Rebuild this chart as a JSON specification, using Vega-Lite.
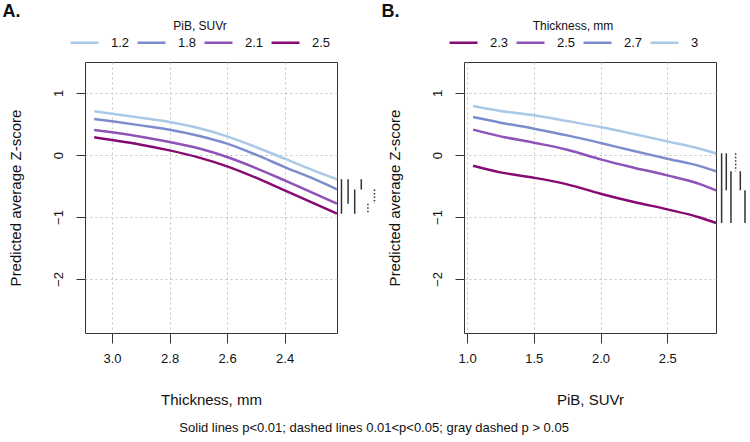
{
  "$schema": "https://vega.github.io/schema/vega-lite/v6.json",
  "padding": {"left": 2, "top": 2, "right": 5, "bottom": 5},
  "config": {
    "font": "Liberation Sans",
    "view": {"stroke": "#333", "strokeWidth": 1},
    "axis": {
      "grid": true, "gridDash": [2, 3], "gridColor": "#c4c4c4", "gridWidth": 1,
      "domain": false, "tickColor": "#333", "tickSize": 9, "tickWidth": 1,
      "labelFontSize": 13, "labelColor": "#111", "labelPadding": 6,
      "titleFontSize": 15, "titleFontWeight": "normal", "titleColor": "#111"
    },
    "legend": {
      "orient": "none", "direction": "horizontal", "titleOrient": "top", "titleAnchor": "middle",
      "titleFontSize": 12, "titleFontWeight": "normal", "titleColor": "#111", "titlePadding": -6,
      "labelFontSize": 13, "labelColor": "#111", "labelOffset": 11,
      "symbolType": "stroke", "symbolSize": 784, "symbolStrokeWidth": 2.5, "columnPadding": 2
    },
    "title": {"fontSize": 18, "fontWeight": "bold", "color": "#111"}
  },
  "title": {"text": "Solid lines p<0.01; dashed lines 0.01<p<0.05; gray dashed p > 0.05", "orient": "bottom", "anchor": "middle", "fontSize": 13, "fontWeight": "normal", "offset": 14},
  "datasets": {
    "a_lines": [
      {"thickness": 3.062, "pib": "1.2", "z": 0.704}, {"thickness": 3.0, "pib": "1.2", "z": 0.667}, {"thickness": 2.9, "pib": "1.2", "z": 0.602}, {"thickness": 2.8, "pib": "1.2", "z": 0.532}, {"thickness": 2.7, "pib": "1.2", "z": 0.435}, {"thickness": 2.6, "pib": "1.2", "z": 0.301}, {"thickness": 2.5, "pib": "1.2", "z": 0.129}, {"thickness": 2.4, "pib": "1.2", "z": -0.059}, {"thickness": 2.3, "pib": "1.2", "z": -0.247}, {"thickness": 2.218, "pib": "1.2", "z": -0.392},
      {"thickness": 3.062, "pib": "1.8", "z": 0.581}, {"thickness": 3.0, "pib": "1.8", "z": 0.543}, {"thickness": 2.9, "pib": "1.8", "z": 0.478}, {"thickness": 2.8, "pib": "1.8", "z": 0.409}, {"thickness": 2.7, "pib": "1.8", "z": 0.312}, {"thickness": 2.6, "pib": "1.8", "z": 0.183}, {"thickness": 2.5, "pib": "1.8", "z": 0.005}, {"thickness": 2.4, "pib": "1.8", "z": -0.194}, {"thickness": 2.3, "pib": "1.8", "z": -0.382}, {"thickness": 2.218, "pib": "1.8", "z": -0.554},
      {"thickness": 3.062, "pib": "2.1", "z": 0.403}, {"thickness": 3.0, "pib": "2.1", "z": 0.366}, {"thickness": 2.9, "pib": "2.1", "z": 0.296}, {"thickness": 2.8, "pib": "2.1", "z": 0.21}, {"thickness": 2.7, "pib": "2.1", "z": 0.108}, {"thickness": 2.6, "pib": "2.1", "z": -0.032}, {"thickness": 2.5, "pib": "2.1", "z": -0.21}, {"thickness": 2.4, "pib": "2.1", "z": -0.409}, {"thickness": 2.3, "pib": "2.1", "z": -0.613}, {"thickness": 2.218, "pib": "2.1", "z": -0.785},
      {"thickness": 3.062, "pib": "2.5", "z": 0.285}, {"thickness": 3.0, "pib": "2.5", "z": 0.242}, {"thickness": 2.9, "pib": "2.5", "z": 0.167}, {"thickness": 2.8, "pib": "2.5", "z": 0.075}, {"thickness": 2.7, "pib": "2.5", "z": -0.038}, {"thickness": 2.6, "pib": "2.5", "z": -0.183}, {"thickness": 2.5, "pib": "2.5", "z": -0.366}, {"thickness": 2.4, "pib": "2.5", "z": -0.57}, {"thickness": 2.3, "pib": "2.5", "z": -0.774}, {"thickness": 2.218, "pib": "2.5", "z": -0.946}
    ],
    "a_bars": [
      {"pair": 1, "from": -0.392, "to": -0.946, "sig": "p<0.01"},
      {"pair": 2, "from": -0.392, "to": -0.785, "sig": "p<0.01"},
      {"pair": 3, "from": -0.554, "to": -0.946, "sig": "p<0.01"},
      {"pair": 4, "from": -0.392, "to": -0.554, "sig": "p<0.01"},
      {"pair": 5, "from": -0.785, "to": -0.946, "sig": "0.01<p<0.05"},
      {"pair": 6, "from": -0.554, "to": -0.785, "sig": "0.01<p<0.05"}
    ],
    "b_lines": [
      {"pib": 1.045, "thickness": "2.3", "z": -0.172}, {"pib": 1.25, "thickness": "2.3", "z": -0.28}, {"pib": 1.5, "thickness": "2.3", "z": -0.366}, {"pib": 1.75, "thickness": "2.3", "z": -0.473}, {"pib": 2.0, "thickness": "2.3", "z": -0.624}, {"pib": 2.25, "thickness": "2.3", "z": -0.758}, {"pib": 2.5, "thickness": "2.3", "z": -0.876}, {"pib": 2.75, "thickness": "2.3", "z": -1.011}, {"pib": 2.865, "thickness": "2.3", "z": -1.097},
      {"pib": 1.045, "thickness": "2.5", "z": 0.409}, {"pib": 1.25, "thickness": "2.5", "z": 0.301}, {"pib": 1.5, "thickness": "2.5", "z": 0.199}, {"pib": 1.75, "thickness": "2.5", "z": 0.086}, {"pib": 2.0, "thickness": "2.5", "z": -0.07}, {"pib": 2.25, "thickness": "2.5", "z": -0.204}, {"pib": 2.5, "thickness": "2.5", "z": -0.328}, {"pib": 2.75, "thickness": "2.5", "z": -0.473}, {"pib": 2.865, "thickness": "2.5", "z": -0.57},
      {"pib": 1.045, "thickness": "2.7", "z": 0.613}, {"pib": 1.25, "thickness": "2.7", "z": 0.522}, {"pib": 1.5, "thickness": "2.7", "z": 0.425}, {"pib": 1.75, "thickness": "2.7", "z": 0.317}, {"pib": 2.0, "thickness": "2.7", "z": 0.194}, {"pib": 2.25, "thickness": "2.7", "z": 0.065}, {"pib": 2.5, "thickness": "2.7", "z": -0.059}, {"pib": 2.75, "thickness": "2.7", "z": -0.183}, {"pib": 2.865, "thickness": "2.7", "z": -0.263},
      {"pib": 1.045, "thickness": "3", "z": 0.79}, {"pib": 1.25, "thickness": "3", "z": 0.71}, {"pib": 1.5, "thickness": "3", "z": 0.64}, {"pib": 1.75, "thickness": "3", "z": 0.548}, {"pib": 2.0, "thickness": "3", "z": 0.452}, {"pib": 2.25, "thickness": "3", "z": 0.339}, {"pib": 2.5, "thickness": "3", "z": 0.22}, {"pib": 2.75, "thickness": "3", "z": 0.097}, {"pib": 2.865, "thickness": "3", "z": 0.027}
    ],
    "b_bars": [
      {"pair": 1, "from": 0.027, "to": -1.097, "sig": "p<0.01"},
      {"pair": 2, "from": 0.027, "to": -0.57, "sig": "p<0.01"},
      {"pair": 3, "from": -0.263, "to": -1.097, "sig": "p<0.01"},
      {"pair": 4, "from": 0.027, "to": -0.263, "sig": "0.01<p<0.05"},
      {"pair": 5, "from": -0.263, "to": -0.57, "sig": "p<0.01"},
      {"pair": 6, "from": -0.57, "to": -1.097, "sig": "p<0.01"}
    ]
  },
  "hconcat": [
    {
      "title": {"text": "A.", "anchor": "start", "frame": "bounds", "dx": -6, "offset": 0.5},
      "width": 252, "height": 271,
      "layer": [
        {
          "data": {"name": "a_lines"},
          "mark": {"type": "line", "strokeWidth": 2.5, "interpolate": "monotone"},
          "encoding": {
            "x": {"field": "thickness", "type": "quantitative", "scale": {"domain": [3.094, 2.218], "nice": false, "zero": false},
                  "axis": {"values": [3.0, 2.8, 2.6, 2.4], "format": ".1f", "title": "Thickness, mm", "tickSize": 10, "labelPadding": 9, "titlePadding": 27}},
            "y": {"field": "z", "type": "quantitative", "scale": {"domain": [-2.87, 1.5], "nice": false, "zero": false},
                  "axis": {"values": [-2, -1, 0, 1], "format": "d", "title": "Predicted average Z-score", "labelAngle": 270, "labelAlign": "center", "labelBaseline": "bottom", "labelPadding": 10.5, "titlePadding": 29}},
            "color": {"field": "pib", "type": "nominal",
                      "scale": {"domain": ["1.2", "1.8", "2.1", "2.5"], "range": ["#a9c9e6", "#7d8ccc", "#8e52b8", "#860a72"]},
                      "legend": {"title": "PiB, SUVr", "legendX": -16, "legendY": -41}}
          }
        },
        {
          "data": {"name": "a_bars"},
          "mark": {"type": "rule", "color": "#333", "strokeWidth": 1.5},
          "encoding": {
            "x": {"field": "pair", "type": "quantitative", "scale": {"domain": [-37.86, 0.32], "nice": false, "zero": false}, "axis": null},
            "y": {"field": "from", "type": "quantitative"},
            "y2": {"field": "to"},
            "strokeDash": {"field": "sig", "type": "nominal", "scale": {"domain": ["p<0.01", "0.01<p<0.05"], "range": [[1, 0], [1.5, 2]]}, "legend": null}
          }
        }
      ],
      "resolve": {"scale": {"x": "independent"}}
    },
    {
      "title": {"text": "B.", "anchor": "start", "frame": "bounds", "dx": -6, "offset": 0.5},
      "width": 252, "height": 271,
      "layer": [
        {
          "data": {"name": "b_lines"},
          "mark": {"type": "line", "strokeWidth": 2.5, "interpolate": "monotone"},
          "encoding": {
            "x": {"field": "pib", "type": "quantitative", "scale": {"domain": [0.977, 2.865], "nice": false, "zero": false},
                  "axis": {"values": [1.0, 1.5, 2.0, 2.5], "format": ".1f", "title": "PiB, SUVr", "tickSize": 10, "labelPadding": 9, "titlePadding": 27}},
            "y": {"field": "z", "type": "quantitative", "scale": {"domain": [-2.87, 1.5], "nice": false, "zero": false},
                  "axis": {"values": [-2, -1, 0, 1], "format": "d", "title": "Predicted average Z-score", "labelAngle": 270, "labelAlign": "center", "labelBaseline": "bottom", "labelPadding": 10.5, "titlePadding": 29}},
            "color": {"field": "thickness", "type": "nominal",
                      "scale": {"domain": ["2.3", "2.5", "2.7", "3"], "range": ["#860a72", "#8e52b8", "#7d8ccc", "#a9c9e6"]},
                      "legend": {"title": "Thickness, mm", "legendX": -16, "legendY": -41}}
          }
        },
        {
          "data": {"name": "b_bars"},
          "mark": {"type": "rule", "color": "#333", "strokeWidth": 1.5},
          "encoding": {
            "x": {"field": "pair", "type": "quantitative", "scale": {"domain": [-54.1, -0.2], "nice": false, "zero": false}, "axis": null},
            "y": {"field": "from", "type": "quantitative"},
            "y2": {"field": "to"},
            "strokeDash": {"field": "sig", "type": "nominal", "scale": {"domain": ["p<0.01", "0.01<p<0.05"], "range": [[1, 0], [1.5, 2]]}, "legend": null}
          }
        }
      ],
      "resolve": {"scale": {"x": "independent"}}
    }
  ],
  "spacing": 5,
  "resolve": {"scale": {"color": "independent"}}
}
